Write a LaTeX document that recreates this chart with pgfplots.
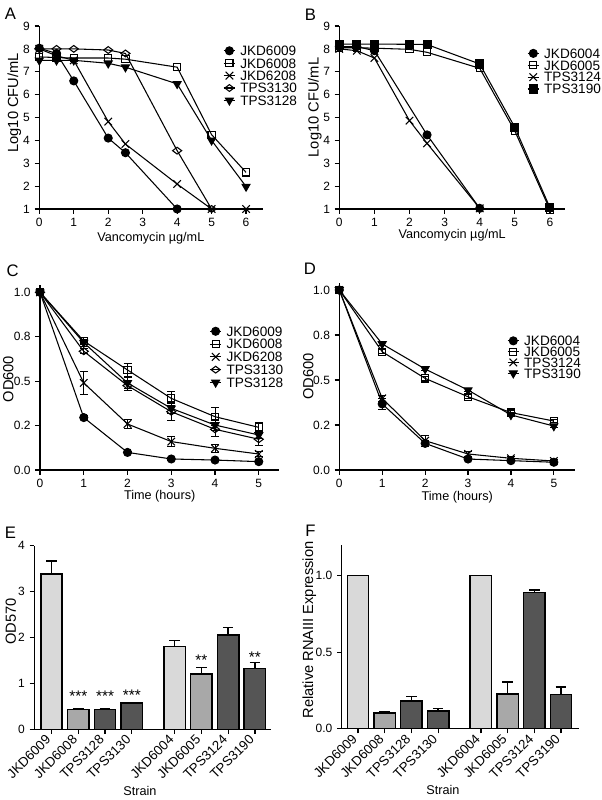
\documentclass[border=0pt]{standalone}
\usepackage{fontspec}
\setmainfont{Liberation Sans}
\usepackage{pgfplots}
\pgfplotsset{compat=1.18}
\definecolor{lightbar}{RGB}{217,217,217}
\definecolor{midbar}{RGB}{168,168,168}
\definecolor{darkbar}{RGB}{85,85,85}
\pgfplotsset{
  base/.style={
    scale only axis, anchor=south west,
    axis lines*=left, axis line style={-, line width=0.9pt},
    tick align=outside, major tick length=3.5pt,
    tick style={line width=0.9pt, black},
    /pgf/number format/assume math mode=true,
    ticklabel style={font=\fontsize{9}{10}\selectfont},
    xlabel style={font=\fontsize{9.5}{11}\selectfont, anchor=center},
    ylabel style={font=\fontsize{11}{12}\selectfont, anchor=center},
    clip=false,
  },
  lineplot/.style={base,
    legend cell align=left,
    legend image code/.code={\draw[mark repeat=2,mark phase=2,##1] plot coordinates {(0pt,0pt) (4.25pt,0pt) (8.5pt,0pt)};},
    legend style={draw=none, fill=none, font=\fontsize{10.2}{11}\selectfont,
      inner sep=0pt, outer sep=0pt, anchor=north west,
      nodes={inner sep=0pt, text height=7.3pt, text depth=0pt}, column sep=3.5pt},
  },
  mcirc/.style={black, line width=0.8pt, mark=*, mark size=3pt, mark options={solid, fill=black}},
  msq/.style={black, line width=0.8pt, mark=square, mark size=2.7pt, mark options={solid}},
  mx/.style={black, line width=0.8pt, mark=x, mark size=4pt, mark options={solid}},
  mdia/.style={black, line width=0.8pt, mark=diamond, mark size=3.4pt, mark options={solid, rotate=90}},
  mtri/.style={black, line width=0.8pt, mark=triangle*, mark size=3.4pt, mark options={solid, rotate=180, fill=black}},
  msqf/.style={black, line width=0.8pt, mark=square*, mark size=3pt, mark options={solid, fill=black}},
  eb/.style={/pgfplots/error bars/y dir=both, /pgfplots/error bars/y explicit,
    /pgfplots/error bars/error bar style={line width=0.7pt},
    /pgfplots/error bars/error mark options={rotate=90, line width=0.7pt, mark size=3pt}},
  barplot/.style={base,
    ybar, bar width=0.8, bar shift=0pt,
    xtick={0,1,2,3,4.6,5.6,6.6,7.6},
    xticklabels={JKD6009,JKD6008,TPS3128,TPS3130,JKD6004,JKD6005,TPS3124,TPS3190},
    xticklabel style={rotate=45, anchor=east, font=\fontsize{10}{11}\selectfont},
  },
  bb/.style={draw=black, line width=1.1pt, fill=#1,
    /pgfplots/error bars/y dir=plus, /pgfplots/error bars/y explicit,
    /pgfplots/error bars/error bar style={line width=1pt},
    /pgfplots/error bars/error mark options={rotate=90, line width=1pt, mark size=4pt}},
}
\begin{document}
\begin{tikzpicture}
\useasboundingbox (0,0) rectangle (450.75pt,600pt);

% ---------------- A ----------------
\begin{axis}[lineplot, at={(29.475pt,443.25pt)}, width=168pt, height=137.25pt,
  xmin=0, xmax=6.5, ymin=1, ymax=9, xtick={0,...,6}, ytick={1,...,9},
  xlabel={Vancomycin µg/mL}, ylabel={Log10 CFU/mL},
  xlabel style={at={(axis description cs:0.498,-0.16)}},
  ylabel style={at={(axis description cs:-0.111,0.58)}},
  legend style={at={(axis description cs:0.821,0.891)}, row sep=2.0pt}]
\addplot[mcirc] coordinates {(0,8.03)(0.5,7.8)(1,6.6)(2,4.1)(2.5,3.46)(4,1.0)};
\addplot[msq] coordinates {(0,7.65)(0.5,7.62)(1,7.6)(2,7.6)(2.5,7.55)(4,7.2)(5,4.25)(6,2.6)};
\addplot[mx] coordinates {(0,8.0)(0.5,7.7)(1,7.5)(2,4.82)(2.5,3.84)(4,2.09)(5,1.0)(6,1.0)};
\addplot[mdia] coordinates {(0,8.0)(0.5,8.0)(1,8.0)(2,7.95)(2.5,7.8)(4,3.55)(5,1.0)};
\addplot[mtri] coordinates {(0,7.5)(0.5,7.5)(1,7.5)(2,7.37)(2.5,7.2)(4,6.47)(5,4.0)(6,1.98)};
\legend{JKD6009,JKD6008,JKD6208,TPS3130,TPS3128}
\end{axis}

% ---------------- B ----------------
\begin{axis}[lineplot, at={(254.475pt,443.25pt)}, width=169.3pt, height=137.25pt,
  xmin=0, xmax=6.43, ymin=1, ymax=9, xtick={0,...,6}, ytick={1,...,9},
  xlabel={Vancomycin µg/mL}, ylabel={Log10 CFU/mL},
  xlabel style={at={(axis description cs:0.5,-0.146)}},
  ylabel style={at={(axis description cs:-0.108,0.555)}},
  legend style={at={(axis description cs:0.832,0.877)}, row sep=1.6pt}]
\addplot[mcirc] coordinates {(0,8.1)(0.5,8.1)(1,7.92)(2.5,4.24)(4,1.03)};
\addplot[msq] coordinates {(0,8.05)(0.5,8.05)(1,8.03)(2,7.98)(2.5,7.85)(4,7.15)(5,4.41)(6,0.97)};
\addplot[mx] coordinates {(0,8.0)(0.5,7.92)(1,7.6)(2,4.86)(2.5,3.87)(4,1.03)};
\addplot[msqf] coordinates {(0,8.21)(0.5,8.21)(1,8.21)(2,8.2)(2.5,8.19)(4,7.34)(5,4.57)(6,1.06)};
\legend{JKD6004,JKD6005,TPS3124,TPS3190}
\end{axis}

% ---------------- C ----------------
\begin{axis}[lineplot, at={(30pt,247.5pt)}, width=179.5pt, height=138.6pt,
  xmin=0, xmax=5.47, ymin=0, ymax=1.04, xtick={0,...,5},
  ytick={0,0.25,0.5,0.75,1}, yticklabels={0.0,0.2,0.5,0.8,1.0},
  xlabel={Time (hours)}, ylabel={OD600},
  xlabel style={at={(axis description cs:0.5,-0.144)}},
  ylabel style={at={(axis description cs:-0.132,0.492)}},
  legend style={at={(axis description cs:0.708,0.777)}, row sep=2.3pt}]
\addplot[mcirc, eb] coordinates {(0,1.0)+-(0,0) (1,0.295)+-(0,0.01) (2,0.099)+-(0,0.008) (3,0.062)+-(0,0.006) (4,0.056)+-(0,0.006) (5,0.047)+-(0,0.006)};
\addplot[msq, eb] coordinates {(0,1.0)+-(0,0) (1,0.726)+-(0,0.02) (2,0.563)+-(0,0.037) (3,0.403)+-(0,0.04) (4,0.30)+-(0,0.05) (5,0.24)+-(0,0.03)};
\addplot[mx, eb] coordinates {(0,1.0)+-(0,0) (1,0.49)+-(0,0.063) (2,0.259)+-(0,0.026) (3,0.16)+-(0,0.03) (4,0.122)+-(0,0.022) (5,0.09)+-(0,0.015)};
\addplot[mdia, eb] coordinates {(0,1.0)+-(0,0) (1,0.668)+-(0,0.015) (2,0.475)+-(0,0.03) (3,0.328)+-(0,0.05) (4,0.229)+-(0,0.04) (5,0.173)+-(0,0.035)};
\addplot[mtri, eb] coordinates {(0,1.0)+-(0,0) (1,0.717)+-(0,0.02) (2,0.49)+-(0,0.03) (3,0.347)+-(0,0.03) (4,0.253)+-(0,0.03) (5,0.197)+-(0,0.02)};
\legend{JKD6009,JKD6008,JKD6208,TPS3130,TPS3128}
\end{axis}

% ---------------- D ----------------
\begin{axis}[lineplot, at={(254.475pt,247.5pt)}, width=177pt, height=140pt,
  xmin=0, xmax=5.5, ymin=0, ymax=1.037, xtick={0,...,5},
  ytick={0,0.25,0.5,0.75,1}, yticklabels={0.0,0.2,0.5,0.8,1.0},
  xlabel={Time (hours)}, ylabel={OD600},
  xlabel style={at={(axis description cs:0.5,-0.147)}},
  ylabel style={at={(axis description cs:-0.131,0.5)}},
  legend style={at={(axis description cs:0.711,0.718)}, row sep=0.8pt}]
\addplot[mcirc, eb] coordinates {(0,1.0)+-(0,0) (1,0.367)+-(0,0.03) (2,0.148)+-(0,0.015) (3,0.061)+-(0,0.008) (4,0.052)+-(0,0.006) (5,0.043)+-(0,0.006)};
\addplot[msq, eb] coordinates {(0,1.0)+-(0,0) (1,0.657)+-(0,0.01) (2,0.509)+-(0,0.01) (3,0.407)+-(0,0.01) (4,0.319)+-(0,0.01) (5,0.272)+-(0,0.01)};
\addplot[mx, eb] coordinates {(0,1.0)+-(0,0) (1,0.398)+-(0,0.015) (2,0.163)+-(0,0.03) (3,0.089)+-(0,0.015) (4,0.065)+-(0,0.008) (5,0.05)+-(0,0.006)};
\addplot[mtri, eb] coordinates {(0,1.0)+-(0,0) (1,0.70)+-(0,0.01) (2,0.561)+-(0,0.01) (3,0.444)+-(0,0.01) (4,0.306)+-(0,0.01) (5,0.244)+-(0,0.01)};
\legend{JKD6004,JKD6005,TPS3124,TPS3190}
\end{axis}

% ---------------- E ----------------
\begin{axis}[barplot, at={(25.725pt,53.025pt)}, width=177.3pt, height=137.7pt,
  xmin=-0.643, xmax=8.19, ymin=0, ymax=4, ytick={0,...,4},
  xlabel={Strain}, ylabel={OD570},
  xlabel style={at={(axis description cs:0.447,-0.336)}},
  ylabel style={at={(axis description cs:-0.099,0.586)}}]
\addplot[bb=lightbar] coordinates {(0,3.38)+-(0,0.29) (4.6,1.80)+-(0,0.13)};
\addplot[bb=midbar] coordinates {(1,0.43)+-(0,0.02) (5.6,1.20)+-(0,0.15)};
\addplot[bb=darkbar] coordinates {(2,0.43)+-(0,0.01) (3,0.57)+-(0,0.02) (6.6,2.05)+-(0,0.17) (7.6,1.33)+-(0,0.13)};
\node[font=\fontsize{11.5}{12}\selectfont, anchor=base] at (axis cs:1,0.60) {***};
\node[font=\fontsize{11.5}{12}\selectfont, anchor=base] at (axis cs:2,0.60) {***};
\node[font=\fontsize{11.5}{12}\selectfont, anchor=base] at (axis cs:3,0.625) {***};
\node[font=\fontsize{11.5}{12}\selectfont, anchor=base] at (axis cs:5.6,1.40) {**};
\node[font=\fontsize{11.5}{12}\selectfont, anchor=base] at (axis cs:7.6,1.46) {**};
\end{axis}

% ---------------- F ----------------
\begin{axis}[barplot, at={(256.275pt,53.475pt)}, width=177.75pt, height=137.8pt,
  xmin=-0.61, xmax=8.26, ymin=0, ymax=1.2, ytick={0,0.5,1}, yticklabels={0.0,0.5,1.0},
  xlabel={Strain}, ylabel={Relative RNAIII Expression},
  xlabel style={at={(axis description cs:0.427,-0.336)}},
  ylabel style={at={(axis description cs:-0.137,0.537), font=\fontsize{10}{11}\selectfont}}]
\addplot[bb=lightbar] coordinates {(0,1.0)+-(0,0) (4.6,1.0)+-(0,0)};
\addplot[bb=midbar] coordinates {(1,0.104)+-(0,0.005) (5.6,0.228)+-(0,0.078)};
\addplot[bb=darkbar] coordinates {(2,0.182)+-(0,0.03) (3,0.117)+-(0,0.015) (6.6,0.89)+-(0,0.015) (7.6,0.223)+-(0,0.05)};
\end{axis}

% panel letters
\node[font=\fontsize{12.5}{13}\selectfont] at (7.9pt,589.35pt) {A};
\node[font=\fontsize{12.5}{13}\selectfont] at (232.9pt,589.1pt) {B};
\node[font=\fontsize{12.5}{13}\selectfont] at (9.4pt,397pt) {C};
\node[font=\fontsize{12.5}{13}\selectfont] at (232.5pt,398.25pt) {D};
\node[font=\fontsize{12.5}{13}\selectfont] at (7.9pt,200.25pt) {E};
\node[font=\fontsize{12.5}{13}\selectfont] at (232.9pt,201.75pt) {F};
\end{tikzpicture}
\end{document}
